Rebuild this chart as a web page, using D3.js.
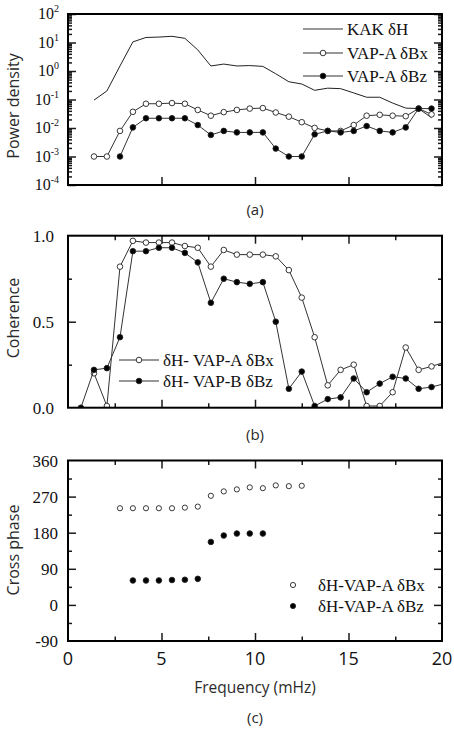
<!DOCTYPE html>
<html><head><meta charset="utf-8">
<script src="https://cdn.jsdelivr.net/npm/d3@7"></script>
<style>
html,body{margin:0;padding:0;background:#fff;}
svg{display:block;}
</style></head>
<body>
<svg id="chart" width="454" height="733"></svg>
<script>
// ---------- data ----------
const freq = [0.69,1.39,2.08,2.78,3.47,4.17,4.86,5.56,6.25,6.94,7.64,8.33,9.03,9.72,10.42,11.11,11.81,12.50,13.19,13.89,14.58,15.28,15.97,16.67,17.36,18.06,18.75,19.44,20.14];

const powerKAK = [null,0.095,0.2,1.5,10.5,15,15.5,16.5,14,5.5,1.5,1.75,1.5,1.55,1.45,0.8,0.42,0.35,0.21,0.25,0.24,0.17,0.12,0.12,0.075,0.05,0.048,0.023,null];
const powerBx  = [null,0.001,0.001,0.0079,0.037,0.071,0.071,0.075,0.071,0.043,0.027,0.036,0.043,0.048,0.05,0.035,0.025,0.016,0.0101,0.0079,0.0079,0.0127,0.027,0.029,0.027,0.026,0.048,0.03,null];
const powerBz  = [null,null,null,0.001,0.0105,0.022,0.022,0.022,0.022,0.0127,0.0057,0.0079,0.007,0.007,0.007,0.0019,0.001,0.001,0.006,0.0079,0.007,0.0079,0.0117,0.0079,0.007,0.0105,0.048,0.048,null];

const cohBx = [null,0.2,0.01,0.82,0.97,0.96,0.96,0.96,0.94,0.93,0.82,0.917,0.89,0.89,0.89,0.88,0.80,0.64,0.41,0.13,0.22,0.25,0.01,0.01,0.09,0.35,0.22,0.24,0.265];
const cohBz = [0.0,0.22,0.23,0.41,0.91,0.91,0.93,0.93,0.90,0.845,0.61,0.75,0.73,0.72,0.73,0.5,0.11,0.21,0.01,0.05,0.06,0.17,0.09,0.14,0.18,0.17,0.11,0.12,0.14];

const phaseBx = [null,null,null,241,241,241,241,241,242.5,245,272,283,288,293,291,298,296,297,null,null,null,null,null,null,null,null,null,null,null];
const phaseBz = [null,null,null,null,61,61,61,62,62.7,65,157,173,178,178,178,null,null,null,null,null,null,null,null,null,null,null,null,null,null];

const xTicksLabels = ["0","5","10","15","20"];
const legendA = ["KAK δH","VAP-A δBx","VAP-A δBz"];
const legendB = ["δH- VAP-A δBx","δH- VAP-B δBz"];
const legendC = ["δH-VAP-A δBx","δH-VAP-A δBz"];
const yTicksB = ["0.0","0.5","1.0"];
const yTicksC = ["-90","0","90","180","270","360"];
const yLabels = ["Power density","Coherence","Cross phase"];
const panelTags = ["(a)","(b)","(c)"];

// ---------- layout ----------
const svg = d3.select("#chart");
const L = 68, R = 442;
const serif = "'Liberation Serif','Times New Roman',serif";
const sans = "'Open Sans','Noto Sans',sans-serif";
const ink = "#1a1a1a";
const x = d3.scaleLinear().domain([0,20]).range([L,R]);

const panels = [
  {top:14, bottom:185},
  {top:235.7, bottom:407.7},
  {top:460.5, bottom:641}
];
const yA = d3.scaleLog().domain([1e-4,1e2]).range([panels[0].bottom, panels[0].top]);
const yB = d3.scaleLinear().domain([0,1]).range([panels[1].bottom, panels[1].top]);
const yC = d3.scaleLinear().domain([-90,360]).range([panels[2].bottom, panels[2].top]);

const defs = svg.append("defs");
panels.forEach((p,i)=>{
  defs.append("clipPath").attr("id","clip"+i).append("rect")
    .attr("x",L).attr("y",p.top).attr("width",R-L).attr("height",p.bottom-p.top);
});

function ticksX(g, p, vals, len, top){
  const ax = d3.axisBottom(x).tickValues(vals).tickSize(-len).tickFormat("");
  const gb = g.append("g").attr("transform",`translate(0,${p.bottom})`).call(ax);
  gb.select(".domain").remove();
  gb.selectAll("line").attr("stroke",ink).attr("stroke-width",1.5);
  if(top){
    const ax2 = d3.axisTop(x).tickValues(vals).tickSize(-len).tickFormat("");
    const gt = g.append("g").attr("transform",`translate(0,${p.top})`).call(ax2);
    gt.select(".domain").remove();
    gt.selectAll("line").attr("stroke",ink).attr("stroke-width",1.5);
  }
}
function ticksY(g, y, vals, len){
  const a1 = d3.axisLeft(y).tickValues(vals).tickSize(-len).tickFormat("");
  const gl = g.append("g").attr("transform",`translate(${L},0)`).call(a1);
  gl.select(".domain").remove();
  gl.selectAll("line").attr("stroke",ink).attr("stroke-width",1.5);
  const a2 = d3.axisRight(y).tickValues(vals).tickSize(-len).tickFormat("");
  const gr = g.append("g").attr("transform",`translate(${R},0)`).call(a2);
  gr.select(".domain").remove();
  gr.selectAll("line").attr("stroke",ink).attr("stroke-width",1.5);
}
function frame(p){
  svg.append("rect").attr("x",L).attr("y",p.top).attr("width",R-L).attr("height",p.bottom-p.top)
    .attr("fill","none").attr("stroke","#000").attr("stroke-width",2);
}
function series(g, y, vals, filled, withLine, r){
  const pts = freq.map((f,i)=>({f, v: vals[i]}));
  if(withLine){
    g.append("path").datum(pts)
      .attr("d", d3.line().defined(d=>d.v!==null).x(d=>x(d.f)).y(d=>y(d.v)))
      .attr("fill","none").attr("stroke","#333").attr("stroke-width",1);
  }
  g.selectAll(null).data(pts.filter(d=>d.v!==null)).enter().append("circle")
    .attr("cx",d=>x(d.f)).attr("cy",d=>y(d.v)).attr("r",r)
    .attr("fill", filled ? "#000" : "#fff").attr("stroke","#222").attr("stroke-width",0.9);
}
function yTitle(text, cy){
  svg.append("text").attr("transform",`translate(19,${cy}) rotate(-90)`)
    .attr("text-anchor","middle").attr("font-family",sans).attr("font-size",16)
    .attr("fill","#2a2a2a").text(text);
}
function tag(text, cy){
  svg.append("text").attr("x",255).attr("y",cy).attr("text-anchor","middle")
    .attr("font-family",sans).attr("font-size",15).attr("fill","#2a2a2a").text(text);
}
function legendRow(lx, ly, marker, text){
  const g = svg.append("g");
  g.append("line").attr("x1",lx).attr("x2",lx+40).attr("y1",ly).attr("y2",ly)
    .attr("stroke","#333").attr("stroke-width",1);
  if(marker){
    g.append("circle").attr("cx",lx+20).attr("cy",ly).attr("r",2.8)
      .attr("fill", marker==="filled" ? "#000" : "#fff").attr("stroke","#222").attr("stroke-width",0.9);
  }
  g.append("text").attr("x",lx+44).attr("y",ly+6).attr("font-family",serif).attr("font-size",17)
    .attr("fill","#111").text(text);
}

// ---------- panel (a) ----------
{
  const p = panels[0];
  const g = svg.append("g");
  ticksX(g, p, [5,10,15], 8, false);
  const majors = d3.range(-4,3).map(e=>Math.pow(10,e));
  const minors = [];
  d3.range(-4,2).forEach(e=>{ for(let m=2;m<=9;m++) minors.push(m*Math.pow(10,e)); });
  ticksY(g, yA, majors, 8);
  ticksY(g, yA, minors, 4);
  const gd = svg.append("g").attr("clip-path","url(#clip0)");
  gd.append("path").datum(freq.map((f,i)=>({f,v:powerKAK[i]})))
    .attr("d", d3.line().defined(d=>d.v!==null).x(d=>x(d.f)).y(d=>yA(d.v)))
    .attr("fill","none").attr("stroke","#222").attr("stroke-width",1);
  series(gd, yA, powerBx, false, true, 2.8);
  series(gd, yA, powerBz, true, true, 2.8);
  frame(p);
  majors.forEach((v,i)=>{
    const e = Math.round(Math.log10(v));
    const t = svg.append("text").attr("x",59).attr("y",yA(v)+5).attr("text-anchor","end")
      .attr("font-family",serif).attr("font-size",16).attr("fill","#111");
    t.append("tspan").text("10");
    t.append("tspan").attr("dy",-7).attr("font-size",10).text(String(e));
  });
  legendRow(303, 29, null, legendA[0]);
  legendRow(303, 53, "open", legendA[1]);
  legendRow(303, 76, "filled", legendA[2]);
  yTitle(yLabels[0], 106);
  tag(panelTags[0], 215);
}

// ---------- panel (b) ----------
{
  const p = panels[1];
  const g = svg.append("g");
  ticksX(g, p, [5,10,15], 8, true);
  ticksX(g, p, [2.5,7.5,12.5,17.5], 4.5, true);
  ticksY(g, yB, [0.5], 8);
  ticksY(g, yB, [0.25,0.75], 4);
  const gd = svg.append("g").attr("clip-path","url(#clip1)");
  series(gd, yB, cohBx, false, true, 2.8);
  series(gd, yB, cohBz, true, true, 2.8);
  frame(p);
  [0,0.5,1].forEach((v,i)=>{
    svg.append("text").attr("x",54).attr("y",yB(v)+6).attr("text-anchor","end")
      .attr("font-family",serif).attr("font-size",17).attr("fill","#111").text(yTicksB[i]);
  });
  legendRow(119, 360, "open", legendB[0]);
  legendRow(119, 381, "filled", legendB[1]);
  yTitle(yLabels[1], 318);
  tag(panelTags[1], 440);
}

// ---------- panel (c) ----------
{
  const p = panels[2];
  const g = svg.append("g");
  ticksX(g, p, [5,10,15], 8, true);
  ticksX(g, p, [2.5,7.5,12.5,17.5], 4.5, true);
  ticksY(g, yC, [0,90,180,270], 8);
  ticksY(g, yC, [-45,45,135,225,315], 4);
  const gd = svg.append("g").attr("clip-path","url(#clip2)");
  series(gd, yC, phaseBx, false, false, 2.6);
  series(gd, yC, phaseBz, true, false, 2.8);
  frame(p);
  [-90,0,90,180,270,360].forEach((v,i)=>{
    svg.append("text").attr("x",58).attr("y",yC(v)+6).attr("text-anchor","end")
      .attr("font-family",serif).attr("font-size",17).attr("fill","#111").text(yTicksC[i]);
  });
  [0,5,10,15,20].forEach((v,i)=>{
    svg.append("text").attr("x",x(v)).attr("y",665).attr("text-anchor","middle")
      .attr("font-family",sans).attr("font-size",18).attr("fill","#111").text(xTicksLabels[i]);
  });
  // legend (markers only)
  [[legendC[0],"open",585],[legendC[1],"filled",606]].forEach(([t,m,ly])=>{
    svg.append("circle").attr("cx",293).attr("cy",ly).attr("r",2.6)
      .attr("fill", m==="filled"?"#000":"#fff").attr("stroke","#222").attr("stroke-width",0.9);
    svg.append("text").attr("x",318).attr("y",ly+6).attr("font-family",serif).attr("font-size",17)
      .attr("fill","#111").text(t);
  });
  yTitle(yLabels[2], 550);
  svg.append("text").attr("x",255).attr("y",693).attr("text-anchor","middle")
    .attr("font-family",sans).attr("font-size",15.5).attr("fill","#2a2a2a").text("Frequency (mHz)");
  tag(panelTags[2], 723);
}
</script>
</body></html>
